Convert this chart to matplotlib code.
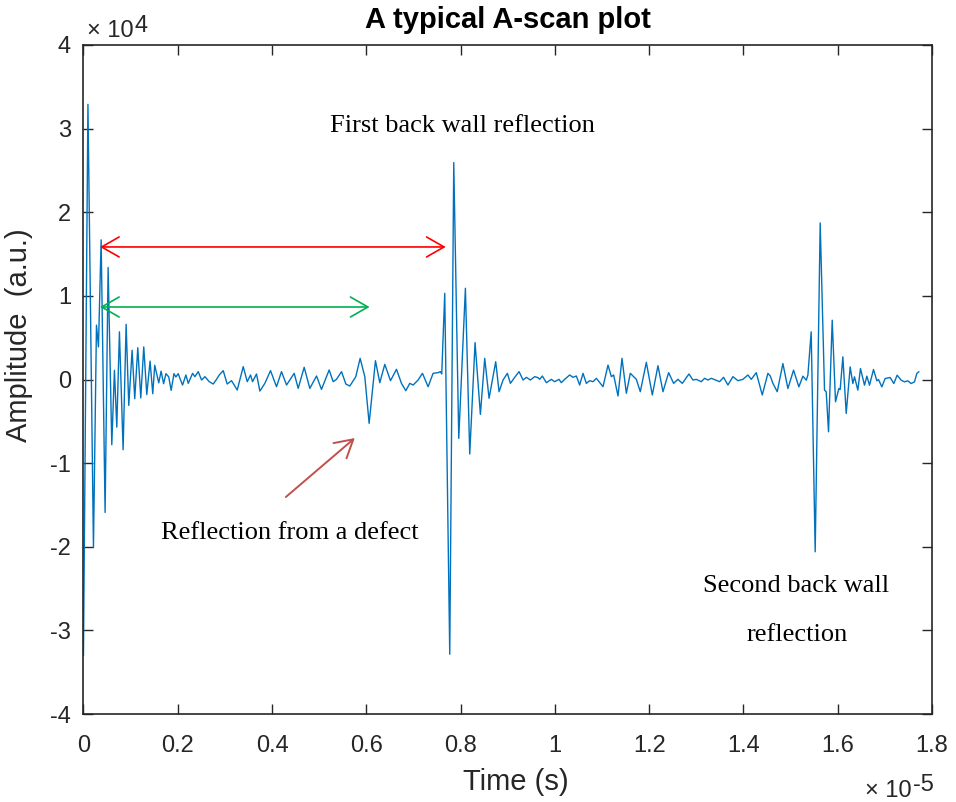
import numpy as np
import matplotlib.pyplot as plt
from matplotlib.ticker import MultipleLocator, FuncFormatter

# A-scan trace, time in units of 1e-5 s, amplitude in units of 1e4 (a.u.)
# initial pulse and its ringing
bang_t = [0.0, 0.0095, 0.0212, 0.0276, 0.0318, 0.0375, 0.0459, 0.0523, 0.0601,
          0.0657, 0.0707, 0.0763, 0.0841, 0.0905, 0.0961, 0.1032, 0.1088, 0.1152,
          0.1216, 0.1279, 0.1343, 0.1413, 0.1470, 0.1512, 0.1597, 0.1647, 0.1700,
          0.1750, 0.1810, 0.1860, 0.1920, 0.1960, 0.2010]
bang_amp = [-3.30, 3.29, -2.01, 0.65, 0.39, 1.67, -1.59, 1.34, -0.78,
            0.11, -0.57, 0.57, -0.84, 0.66, -0.31, 0.35, -0.23, 0.38,
            -0.22, 0.39, -0.18, 0.22, -0.17, 0.17, -0.04, 0.10, -0.05,
            0.07, 0.03, -0.13, 0.07, 0.03, 0.07]

# noise floor with the defect echo
noise_t = [0.2046, 0.2102, 0.2173, 0.2223, 0.2315, 0.2364, 0.2435, 0.2505, 0.2576,
           0.2668, 0.2753, 0.2823, 0.2880, 0.2965, 0.3049, 0.3141, 0.3262, 0.3389,
           0.3474, 0.3544, 0.3587, 0.3671, 0.3742, 0.3848, 0.3968, 0.4095, 0.4201,
           0.4308, 0.4470, 0.4555, 0.4682, 0.4802, 0.4944, 0.5049, 0.5212, 0.5297,
           0.5368, 0.5474, 0.5566, 0.5650, 0.5777, 0.5869, 0.5968, 0.6060, 0.6194,
           0.6286, 0.6392, 0.6513, 0.6640, 0.6746, 0.6838, 0.6922, 0.6993, 0.7099,
           0.7191, 0.7311, 0.7417, 0.7523]
noise_amp = [0.014, -0.066, 0.054, -0.046, 0.074, 0.034, 0.094, -0.006, 0.034,
             -0.026, -0.054, 0.002, 0.054, 0.106, -0.054, -0.014, -0.126, 0.154,
             -0.026, 0.054, -0.026, 0.066, -0.138, -0.046, 0.106, -0.086, 0.094,
             -0.066, 0.074, -0.106, 0.146, -0.106, 0.042, -0.118, 0.114, -0.026,
             0.002, 0.094, -0.054, -0.078, 0.034, 0.253, 0.034, -0.524, 0.225,
             -0.038, 0.181, -0.014, 0.122, -0.046, -0.134, -0.046, -0.066, -0.006,
             0.074, -0.086, 0.074, 0.082]

# first back wall echo
echo1_t = [0.7572, 0.7600, 0.7664, 0.7770, 0.7855, 0.7961, 0.8102, 0.8194, 0.8307,
           0.8420, 0.8512, 0.8604, 0.8745, 0.8816, 0.8901, 0.8993, 0.9056, 0.9148,
           0.9240, 0.9325, 0.9396, 0.9480, 0.9572, 0.9643]
echo1_amp = [0.094, 0.066, 1.031, -3.285, 2.594, -0.704, 1.091, -0.891, 0.441,
             -0.417, 0.253, -0.225, 0.213, -0.146, -0.006, 0.074, -0.046, 0.026,
             0.094, -0.006, 0.026, -0.006, 0.034, 0.022]

# quiet stretch between the two back wall echoes
mid_t = [0.9678, 0.9734, 0.9819, 0.9925, 0.9996, 1.0088, 1.0137, 1.0208, 1.0314,
         1.0385, 1.0455, 1.0526, 1.0597, 1.0667, 1.0738, 1.0809, 1.0880, 1.1021,
         1.1127, 1.1198, 1.1247, 1.1339, 1.1424, 1.1516, 1.1600, 1.1671, 1.1728,
         1.1812, 1.1940, 1.2067, 1.2187, 1.2293, 1.2413, 1.2519, 1.2611, 1.2703,
         1.2844, 1.2929, 1.3000, 1.3106, 1.3176, 1.3247, 1.3318, 1.3410, 1.3494,
         1.3579, 1.3671, 1.3777, 1.3883, 1.3989, 1.4095, 1.4166, 1.4272, 1.4399,
         1.4519, 1.4569, 1.4625, 1.4717]
mid_amp = [0.002, 0.042, -0.038, 0.002, -0.026, 0.002, -0.038, 0.002, 0.054,
           0.026, 0.042, -0.066, 0.074, -0.046, -0.014, -0.026, 0.014, -0.086,
           0.173, 0.034, 0.054, -0.197, 0.253, -0.165, 0.074, 0.034, 0.002,
           -0.146, 0.205, -0.185, 0.165, -0.146, 0.082, -0.046, 0.002, -0.046,
           0.066, -0.006, 0.002, -0.026, 0.014, -0.006, 0.014, -0.006, -0.026,
           0.026, -0.066, 0.034, -0.014, 0.002, 0.054, 0.002, 0.082, -0.185,
           0.074, 0.042, -0.046, -0.146]

# second back wall echo
echo2_t = [1.4837, 1.4943, 1.5063, 1.5176, 1.5261, 1.5332, 1.5367, 1.5437, 1.5522,
           1.5628, 1.5720, 1.5756, 1.5805, 1.5883, 1.5953, 1.6024, 1.6052, 1.6109,
           1.6180, 1.6264, 1.6321, 1.6356, 1.6427, 1.6483, 1.6568, 1.6618, 1.6674,
           1.6759, 1.6830, 1.6865, 1.6936, 1.7006, 1.7112, 1.7190, 1.7261, 1.7346,
           1.7416, 1.7487, 1.7558, 1.7628, 1.7678, 1.7720]
echo2_amp = [0.191, -0.108, 0.112, -0.088, 0.040, -0.008, 0.052, 0.570, -2.060,
             1.873, -0.127, -0.147, -0.625, 0.709, -0.267, -0.108, -0.120, 0.271,
             -0.406, 0.151, -0.048, 0.032, -0.127, 0.131, -0.068, 0.040, -0.068,
             0.120, -0.016, 0.000, -0.088, 0.012, 0.024, -0.048, 0.052, -0.008,
             -0.028, -0.016, -0.048, -0.028, 0.072, 0.092]

t = np.concatenate([bang_t, noise_t, echo1_t, mid_t, echo2_t])
amp = np.concatenate([bang_amp, noise_amp, echo1_amp, mid_amp, echo2_amp])

plt.rcParams['font.family'] = 'Liberation Sans'
plt.rcParams['axes.unicode_minus'] = False

fig = plt.figure(figsize=(9.56, 8.02), dpi=100)
ax = fig.add_axes([0.0873, 0.1097, 0.8876, 0.8342])

ax.plot(t, amp, color='#0072BD', lw=1.0)

ax.set_xlim(0, 1.8)
ax.set_ylim(-4, 4)
ax.xaxis.set_major_locator(MultipleLocator(0.2))
ax.yaxis.set_major_locator(MultipleLocator(1))
fmt = FuncFormatter(lambda v, pos: '%g' % round(v, 6))
ax.xaxis.set_major_formatter(fmt)
ax.yaxis.set_major_formatter(fmt)

dark = '#262626'
for s in ax.spines.values():
    s.set_linewidth(1.2)
    s.set_color(dark)
ax.tick_params(direction='in', length=7, width=1.0, top=True, right=True,
               labelsize=17, colors=dark)
ax.tick_params(axis='x', pad=15)
ax.tick_params(axis='y', pad=9)

# axis multipliers, exponent drawn full size and raised
def multiplier(x, y, exponent, raise_pt):
    base = ax.text(x, y, '\u00d7 10', transform=ax.transAxes, ha='left',
                   va='bottom', fontsize=17, color=dark)
    ax.annotate(exponent, xy=(1, 0), xycoords=base, xytext=(0.8, raise_pt),
                textcoords='offset points', ha='left', va='bottom',
                fontsize=17, color=dark)

multiplier(0.0041, 1.0040, '4', 4)
multiplier(0.9210, -0.1315, '-5', 4.5)

ax.set_title('A typical A-scan plot', fontsize=21, fontweight='bold', pad=12)
ax.set_xlabel('Time (s)', fontsize=21, color=dark)
ax.set_ylabel('Amplitude  (a.u.)', fontsize=21, color=dark)
ax.xaxis.set_label_coords(0.5097, -0.0807)
ax.yaxis.set_label_coords(-0.0595, 0.566)

# annotations
serif = dict(family='Liberation Serif', fontsize=19, color='black')
ax.text(0.8045, 2.957, 'First back wall reflection', ha='center', va='baseline', **serif)
ax.text(0.4367, -1.908, 'Reflection from a defect', ha='center', va='baseline', **serif)
ax.text(1.5115, -2.536, 'Second back wall', ha='center', va='baseline', **serif)
ax.text(1.5145, -3.128, 'reflection', ha='center', va='baseline', **serif)

def arrow(x0, y0, x1, y1, style, color, lw):
    ax.annotate('', xy=(x1, y1), xytext=(x0, y0),
                arrowprops=dict(arrowstyle=style + ',head_length=0.7,head_width=0.4',
                                color=color, lw=lw, shrinkA=0, shrinkB=0,
                                mutation_scale=18))

arrow(0.035, 1.585, 0.7685, 1.585, '<->', '#ff0000', 1.2)
arrow(0.035, 0.867, 0.607, 0.867, '<->', '#00b050', 1.2)
arrow(0.4293, -1.405, 0.5756, -0.700, '->', '#c0504d', 1.4)

fig.savefig('out.png', dpi=100)
